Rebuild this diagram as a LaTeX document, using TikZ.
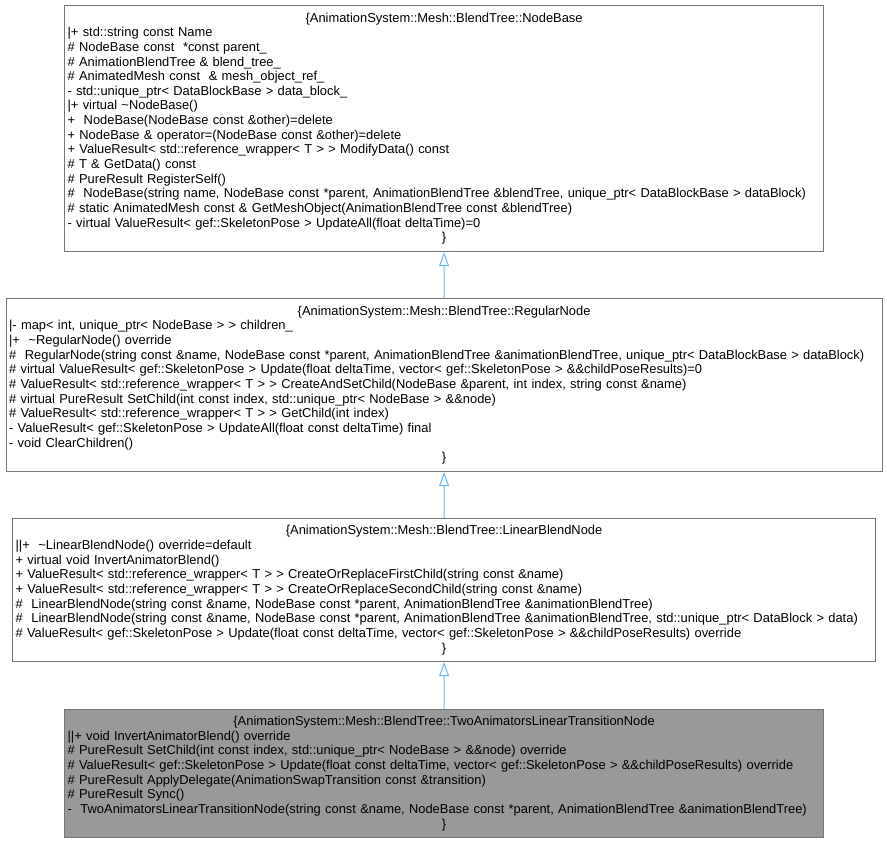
\documentclass[tikz,border=0pt]{standalone}
\usepackage{fontspec}
\setmainfont{Liberation Sans}
\usetikzlibrary{arrows.meta}

\definecolor{boxborder}{HTML}{777777}
\definecolor{boxfill}{HTML}{999999}
\definecolor{edgeblue}{HTML}{63B8FF}

\begin{document}
\begin{tikzpicture}[x=1bp,y=-1bp]
            \tikzset{classbox/.style = {draw=boxborder, line width=1.2bp, fill=white, anchor=north west,
                inner xsep=3bp, inner ysep=0bp, align=left,
                font=\fontsize{12.9bp}{14.65bp}\selectfont}}
            \tikzset{inherit/.style = {draw=edgeblue, line width=1bp, -{Triangle[open, length=14bp, width=10bp]}}}
            \useasboundingbox (0,0) rectangle (887,843);
            % classes
            \node[classbox, text width=753bp, minimum width=759bp, minimum height=246bp] (nodebase) at (64,5) {%
                \centerline{\{AnimationSystem::Mesh::BlendTree::NodeBase}
                |+ std::string const Name\\
                \# NodeBase const\ \ *const parent\_\\
                \# AnimationBlendTree \& blend\_tree\_\\
                \# AnimatedMesh const\ \ \& mesh\_object\_ref\_\\
                - std::unique\_ptr< DataBlockBase > data\_block\_\\
                |+ virtual \textasciitilde NodeBase()\\
                +\ \ NodeBase(NodeBase const \&other)=delete\\
                + NodeBase \& operator=(NodeBase const \&other)=delete\\
                + ValueResult< std::reference\_wrapper< T > > ModifyData() const\\
                \# T \& GetData() const\\
                \# PureResult RegisterSelf()\\
                \#\ \ NodeBase(string name, NodeBase const *parent, AnimationBlendTree \&blendTree, unique\_ptr< DataBlockBase > dataBlock)\\
                \# static AnimatedMesh const \& GetMeshObject(AnimationBlendTree const \&blendTree)\\
                - virtual ValueResult< gef::SkeletonPose > UpdateAll(float deltaTime)=0\par
                \centerline{\}}};
            \node[classbox, text width=870bp, minimum width=876bp, minimum height=173bp] (regular) at (5.5,298) {%
                \centerline{\{AnimationSystem::Mesh::BlendTree::RegularNode}
                |- map< int, unique\_ptr< NodeBase > > children\_\\
                |+\ \ \textasciitilde RegularNode() override\\
                \#\ \ RegularNode(string const \&name, NodeBase const *parent, AnimationBlendTree \&animationBlendTree, unique\_ptr< DataBlockBase > dataBlock)\\
                \# virtual ValueResult< gef::SkeletonPose > Update(float deltaTime, vector< gef::SkeletonPose > \&\&childPoseResults)=0\\
                \# ValueResult< std::reference\_wrapper< T > > CreateAndSetChild(NodeBase \&parent, int index, string const \&name)\\
                \# virtual PureResult SetChild(int const index, std::unique\_ptr< NodeBase > \&\&node)\\
                \# ValueResult< std::reference\_wrapper< T > > GetChild(int index)\\
                - ValueResult< gef::SkeletonPose > UpdateAll(float const deltaTime) final\\
                - void ClearChildren()\par
                \centerline{\}}};
            \node[classbox, text width=857bp, minimum width=863bp, minimum height=143bp] (linear) at (12,518) {%
                \centerline{\{AnimationSystem::Mesh::BlendTree::LinearBlendNode}
                ||+\ \ \textasciitilde LinearBlendNode() override=default\\
                + virtual void InvertAnimatorBlend()\\
                + ValueResult< std::reference\_wrapper< T > > CreateOrReplaceFirstChild(string const \&name)\\
                + ValueResult< std::reference\_wrapper< T > > CreateOrReplaceSecondChild(string const \&name)\\
                \#\ \ LinearBlendNode(string const \&name, NodeBase const *parent, AnimationBlendTree \&animationBlendTree)\\
                \#\ \ LinearBlendNode(string const \&name, NodeBase const *parent, AnimationBlendTree \&animationBlendTree, std::unique\_ptr< DataBlock > data)\\
                \# ValueResult< gef::SkeletonPose > Update(float const deltaTime, vector< gef::SkeletonPose > \&\&childPoseResults) override\par
                \centerline{\}}};
            \node[classbox, fill=boxfill, text width=753bp, minimum width=759bp, minimum height=128bp] (transition) at (64,709) {%
                \centerline{\{AnimationSystem::Mesh::BlendTree::TwoAnimatorsLinearTransitionNode}
                ||+ void InvertAnimatorBlend() override\\
                \# PureResult SetChild(int const index, std::unique\_ptr< NodeBase > \&\&node) override\\
                \# ValueResult< gef::SkeletonPose > Update(float const deltaTime, vector< gef::SkeletonPose > \&\&childPoseResults) override\\
                \# PureResult ApplyDelegate(AnimationSwapTransition const \&transition)\\
                \# PureResult Sync()\\
                -\ \ TwoAnimatorsLinearTransitionNode(string const \&name, NodeBase const *parent, AnimationBlendTree \&animationBlendTree)\par
                \centerline{\}}};
            % inheritance
            \draw[inherit] (regular.north) to (nodebase.south);
            \draw[inherit] (linear.north) to (regular.south);
            \draw[inherit] (transition.north) to (linear.south);
        \end{tikzpicture}
\end{document}
